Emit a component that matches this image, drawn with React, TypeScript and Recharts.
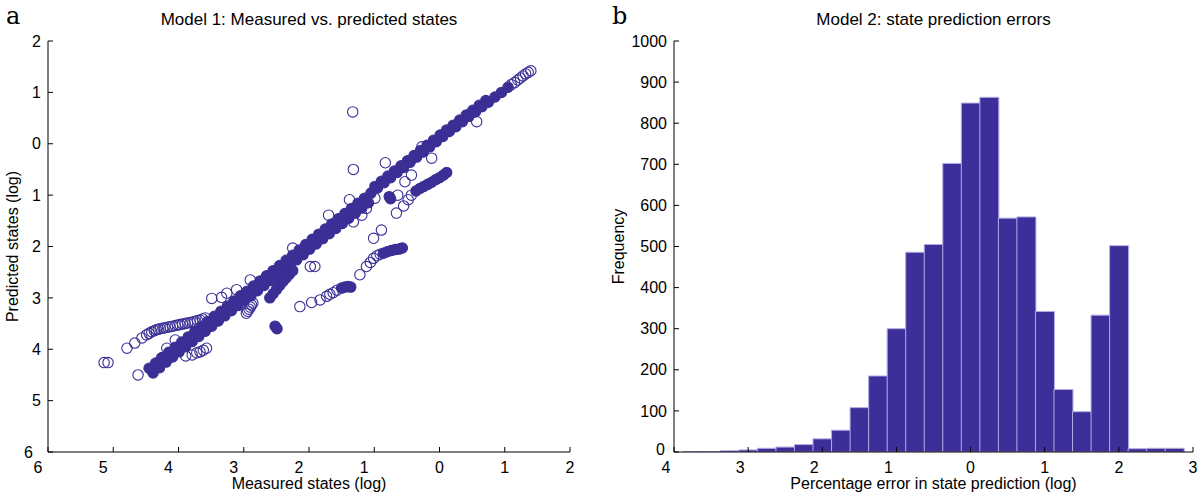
import React from 'react'
import { ScatterChart, Scatter, BarChart, Bar, XAxis, YAxis } from 'recharts'

type Pt = [number, number]

const FONT = '"Liberation Sans", Arial, Helvetica, sans-serif'
const INK = '#3b2f96'

// panel a: measured vs predicted (log)
const bandCore: Pt[] = [
  [-4.45, -4.37], [-4.35, -4.27], [-4.25, -4.16], [-4.15, -4.06], [-4.05, -3.96], [-3.95, -3.86],
  [-3.85, -3.76], [-3.75, -3.66], [-3.65, -3.56], [-3.55, -3.46], [-3.45, -3.36], [-3.35, -3.26],
  [-3.25, -3.16], [-3.15, -3.06], [-3.05, -2.96], [-2.95, -2.87], [-2.85, -2.77], [-2.75, -2.67],
  [-2.65, -2.57], [-2.55, -2.47], [-2.45, -2.37], [-2.35, -2.27], [-2.25, -2.17], [-2.15, -2.07],
  [-2.05, -1.96], [-1.95, -1.86], [-1.85, -1.76], [-1.75, -1.66], [-1.65, -1.56], [-1.55, -1.46],
  [-1.45, -1.36], [-1.35, -1.26], [-1.25, -1.16], [-1.15, -1.06], [-1.05, -0.96], [-0.95, -0.86],
  [-0.85, -0.76], [-0.75, -0.66], [-0.65, -0.56], [-0.55, -0.46], [-0.45, -0.36], [-0.35, -0.26],
  [-0.25, -0.16], [-0.15, -0.06], [-0.05, 0.04], [0.05, 0.14], [0.15, 0.24], [0.25, 0.33],
  [0.35, 0.43], [0.45, 0.53], [0.55, 0.62], [0.65, 0.72], [0.75, 0.81], [0.85, 0.91],
  [0.95, 1.0], [1.05, 1.1],
]

const bandUnder: Pt[] = [
  [-4.39, -4.46], [-4.29, -4.36], [-4.19, -4.25], [-4.09, -4.15], [-3.99, -4.05], [-3.89, -3.95],
  [-3.79, -3.85], [-3.69, -3.75], [-3.59, -3.65], [-3.49, -3.55], [-3.39, -3.45], [-3.29, -3.35],
  [-3.19, -3.25], [-3.09, -3.15], [-2.99, -3.05], [-2.89, -2.96], [-2.79, -2.86], [-2.69, -2.76],
  [-2.59, -2.66], [-2.49, -2.56], [-2.39, -2.46], [-2.29, -2.36], [-2.19, -2.26], [-2.09, -2.16],
  [-1.99, -2.05], [-1.89, -1.95], [-1.79, -1.85], [-1.69, -1.75], [-1.59, -1.65], [-1.49, -1.55],
  [-1.39, -1.45], [-1.29, -1.35], [-1.19, -1.25], [-1.09, -1.15],
]

const bandOver: Pt[] = [
  [-0.99, -0.83], [-0.89, -0.73], [-0.79, -0.63], [-0.69, -0.53], [-0.59, -0.43], [-0.49, -0.33],
  [-0.39, -0.23], [-0.29, -0.13], [-0.19, -0.03], [-0.09, 0.07], [0.01, 0.17], [0.11, 0.27],
  [0.21, 0.36], [0.31, 0.46], [0.41, 0.56], [0.51, 0.65], [0.61, 0.75], [0.71, 0.84],
]

const sideSolid: Pt[] = [
  [-2.6, -3.0], [-2.55, -2.92], [-2.5, -2.84], [-2.45, -2.76], [-2.4, -2.68], [-2.35, -2.61],
  [-2.3, -2.54], [-2.25, -2.47],
  [-2.52, -3.55], [-2.49, -3.6],
  [-1.5, -2.81], [-1.45, -2.79], [-1.4, -2.78], [-1.36, -2.79],
  [-0.86, -2.13], [-0.8, -2.1], [-0.74, -2.08], [-0.68, -2.06], [-0.62, -2.05], [-0.57, -2.03],
  [-0.36, -0.92], [-0.3, -0.87], [-0.24, -0.83], [-0.18, -0.79], [-0.12, -0.75], [-0.06, -0.7],
  [0.0, -0.66], [0.06, -0.61], [0.11, -0.56],
  [-0.77, -1.03], [-0.75, -1.07],
]

const openArc: Pt[] = [
  [-5.14, -4.26], [-5.08, -4.26], [-4.79, -3.98], [-4.67, -3.88], [-4.56, -3.78], [-4.49, -3.72],
  [-4.45, -3.69], [-4.41, -3.66], [-4.37, -3.64], [-4.34, -3.62], [-4.31, -3.61], [-4.28, -3.6],
  [-4.24, -3.59], [-4.21, -3.58], [-4.17, -3.57], [-4.13, -3.56], [-4.09, -3.55], [-4.05, -3.54],
  [-4.01, -3.53], [-3.98, -3.52], [-3.94, -3.51], [-3.9, -3.5], [-3.86, -3.49], [-3.82, -3.48],
  [-3.78, -3.47], [-3.75, -3.46], [-3.71, -3.44], [-3.67, -3.43], [-3.63, -3.41], [-3.59, -3.39],
]

const openMisc: Pt[] = [
  [-3.89, -4.13], [-3.79, -4.11], [-3.72, -4.07], [-3.67, -4.05], [-3.62, -4.02], [-3.57, -3.98],
  [-4.62, -4.5], [-4.26, -4.17], [-4.18, -3.98], [-4.05, -3.82],
  [-3.49, -3.01], [-3.34, -2.99], [-3.26, -2.91], [-3.11, -2.84], [-2.9, -2.65], [-2.25, -2.03],
  [-2.96, -3.3], [-2.94, -3.26], [-2.92, -3.22], [-2.9, -3.18], [-2.88, -3.14], [-2.86, -3.1],
  [-1.98, -2.39], [-1.91, -2.39],
  [-2.14, -3.17], [-1.96, -3.09], [-1.83, -3.04], [-1.73, -2.97], [-1.68, -2.93], [-1.63, -2.9],
  [-1.57, -2.85],
  [-1.22, -2.55], [-1.12, -2.39], [-1.06, -2.31], [-1.01, -2.23], [-0.96, -2.18], [-0.91, -2.15],
  [-0.66, -1.35], [-0.55, -1.21], [-0.48, -1.09], [-0.43, -1.0],
  [-1.32, -0.5], [-0.83, -0.37], [-1.38, -1.09], [-1.7, -1.39], [-0.27, -0.06], [-0.12, -0.28],
  [-0.53, -0.74], [-0.43, -0.61], [0.57, 0.43], [-1.32, -1.52], [-1.19, -1.39], [-1.12, -1.26],
  [-0.99, -1.06], [-1.01, -1.84], [-0.89, -1.68], [-0.64, -1.0], [-1.33, 0.62],
  [1.1, 1.15], [1.15, 1.19], [1.2, 1.24], [1.24, 1.28], [1.28, 1.32], [1.32, 1.36],
  [1.36, 1.39], [1.4, 1.42],
]

const scatterTicksX = [-6, -5, -4, -3, -2, -1, 0, 1, 2]
const scatterTicksY = [-6, -5, -4, -3, -2, -1, 0, 1, 2]

// panel b: histogram of prediction errors
const binCenters = [
  -3.75, -3.5, -3.25, -3.0, -2.75, -2.5, -2.25, -2.0, -1.75, -1.5, -1.25, -1.0, -0.75, -0.5,
  -0.25, 0, 0.25, 0.5, 0.75, 1.0, 1.25, 1.5, 1.75, 2.0, 2.25, 2.5, 2.75,
]
const binCounts = [
  1, 1, 3, 5, 9, 12, 18, 32, 53, 108, 185, 300, 486, 505,
  702, 849, 863, 569, 572, 342, 152, 98, 333, 502, 8, 9, 9,
]
const histTicksX = [-4, -3, -2, -1, 0, 1, 2, 3]
const histTicksY = [0, 100, 200, 300, 400, 500, 600, 700, 800, 900, 1000]

const toRows = (pts: Pt[]) => pts.map(([x, y]) => ({ x, y }))
const histRows = binCenters.map((c, i) => ({ c, n: binCounts[i] }))

const FS = 16
const absLabel = (v: number) => String(Math.abs(v))
const axisStroke = { stroke: '#000', strokeWidth: 1 }
const labelStyle = { fill: '#000', fontSize: FS, fontFamily: FONT }

// the source figure lost its minus signs; the digits of negative ticks sit a little left of the tick
const bottomTick = (negShift: number) => (p: any) => {
  const v = p.payload.value
  return (
    <text x={p.x + (v < 0 ? negShift : 0)} y={p.y} dy="0.71em" textAnchor="middle" fill="#000" fontSize={FS} fontFamily={FONT}>
      {absLabel(v)}
    </text>
  )
}

// lowest label of each y axis is nudged so it clears the x labels under it
const leftTick = (lowest: number, dx: number, dy: number) => (p: any) => {
  const v = p.payload.value
  const low = v === lowest
  return (
    <text x={p.x + (low ? dx : 0)} y={p.y + (low ? dy : 0)} dy="0.355em" textAnchor="end" fill="#000" fontSize={FS} fontFamily={FONT}>
      {absLabel(v)}
    </text>
  )
}

const openDot = (p: any) => (
  <circle cx={p.cx} cy={p.cy} r={5.2} fill="none" stroke={INK} strokeWidth={1.1} />
)
const solidDot = (p: any) => (
  <circle cx={p.cx} cy={p.cy} r={5.2} fill={INK} stroke={INK} strokeWidth={1.1} />
)

const textBase: React.CSSProperties = {
  position: 'absolute',
  fontFamily: FONT,
  fontSize: FS,
  color: '#000',
  whiteSpace: 'nowrap',
}

function ScatterPanel() {
  return (
    <div style={{ position: 'absolute', left: 0, top: 0, width: 600, height: 493 }}>
      <div style={{ ...textBase, fontFamily: 'DejaVu Serif, serif', fontSize: 24, left: 6, top: 2 }}>a</div>
      <div style={{ ...textBase, fontSize: 17, left: 48, width: 522, top: 10, textAlign: 'center' }}>
        Model 1: Measured vs. predicted states
      </div>
      <ScatterChart width={600} height={493} margin={{ top: 41, right: 30, bottom: 0, left: 0 }}>
        <XAxis
          xAxisId="top"
          orientation="top"
          type="number"
          domain={[-6, 2]}
          ticks={scatterTicksX}
          allowDataOverflow
          height={0}
          tick={false}
          tickSize={-5}
          axisLine={axisStroke}
          tickLine={axisStroke}
        />
        <YAxis
          yAxisId="right"
          orientation="right"
          type="number"
          domain={[-6, 2]}
          ticks={scatterTicksY}
          allowDataOverflow
          width={0}
          tick={false}
          tickSize={-5}
          axisLine={axisStroke}
          tickLine={axisStroke}
        />
        <XAxis
          type="number"
          dataKey="x"
          domain={[-6, 2]}
          ticks={scatterTicksX}
          allowDataOverflow
          height={41}
          tick={bottomTick(-10)}
          tickSize={-5}
          tickMargin={15}
          axisLine={axisStroke}
          tickLine={axisStroke}
          label={{ value: 'Measured states (log)', position: 'insideBottom', offset: 4, ...labelStyle }}
        />
        <YAxis
          type="number"
          dataKey="y"
          domain={[-6, 2]}
          ticks={scatterTicksY}
          allowDataOverflow
          width={48}
          tick={leftTick(-6, -8, 0)}
          tickSize={-5}
          tickMargin={12}
          axisLine={axisStroke}
          tickLine={axisStroke}
          label={{ value: 'Predicted states (log)', angle: -90, position: 'insideLeft', offset: 12, style: { textAnchor: 'middle' }, ...labelStyle }}
        />
        <Scatter data={toRows(openArc)} shape={openDot} isAnimationActive={false} />
        <Scatter data={toRows(openMisc)} shape={openDot} isAnimationActive={false} />
        <Scatter data={toRows(bandUnder)} shape={solidDot} isAnimationActive={false} />
        <Scatter data={toRows(bandOver)} shape={solidDot} isAnimationActive={false} />
        <Scatter data={toRows(bandCore)} shape={solidDot} isAnimationActive={false} />
        <Scatter data={toRows(sideSolid)} shape={solidDot} isAnimationActive={false} />
      </ScatterChart>
    </div>
  )
}

function HistPanel() {
  return (
    <div style={{ position: 'absolute', left: 600, top: 0, width: 600, height: 493 }}>
      <div style={{ ...textBase, fontFamily: 'DejaVu Serif, serif', fontSize: 24, left: 12, top: 2 }}>b</div>
      <div style={{ ...textBase, fontSize: 17, left: 74, width: 519, top: 10, textAlign: 'center' }}>
        Model 2: state prediction errors
      </div>
      <BarChart
        width={600}
        height={493}
        data={histRows}
        margin={{ top: 41, right: 7, bottom: 0, left: 0 }}
        barCategoryGap={0}
        barGap={0}
      >
        <XAxis
          xAxisId="top"
          orientation="top"
          type="number"
          domain={[-4, 3]}
          ticks={histTicksX}
          allowDataOverflow
          height={0}
          tick={false}
          tickSize={-5}
          axisLine={axisStroke}
          tickLine={axisStroke}
        />
        <YAxis
          yAxisId="right"
          orientation="right"
          type="number"
          domain={[0, 1000]}
          ticks={histTicksY}
          allowDataOverflow
          width={0}
          tick={false}
          tickSize={-5}
          axisLine={axisStroke}
          tickLine={axisStroke}
        />
        <XAxis
          type="number"
          dataKey="c"
          domain={[-4, 3]}
          ticks={histTicksX}
          allowDataOverflow
          height={41}
          tick={bottomTick(-8)}
          tickSize={-5}
          tickMargin={15}
          axisLine={axisStroke}
          tickLine={axisStroke}
          label={{ value: 'Percentage error in state prediction (log)', position: 'insideBottom', offset: 4, ...labelStyle }}
        />
        <YAxis
          type="number"
          domain={[0, 1000]}
          ticks={histTicksY}
          allowDataOverflow
          width={74}
          tick={leftTick(0, -2, -3)}
          tickSize={-5}
          tickMargin={12}
          axisLine={axisStroke}
          tickLine={axisStroke}
          label={{ value: 'Frequency', angle: -90, position: 'insideLeft', offset: 18, style: { textAnchor: 'middle' }, ...labelStyle }}
        />
        <Bar dataKey="n" fill="#3d2f99" stroke="#b3abe3" strokeWidth={1} isAnimationActive={false} />
      </BarChart>
    </div>
  )
}

export default function App() {
  return (
    <div style={{ position: 'absolute', left: 0, top: 0, width: 1200, height: 493, background: '#fff' }}>
      <ScatterPanel />
      <HistPanel />
    </div>
  )
}
